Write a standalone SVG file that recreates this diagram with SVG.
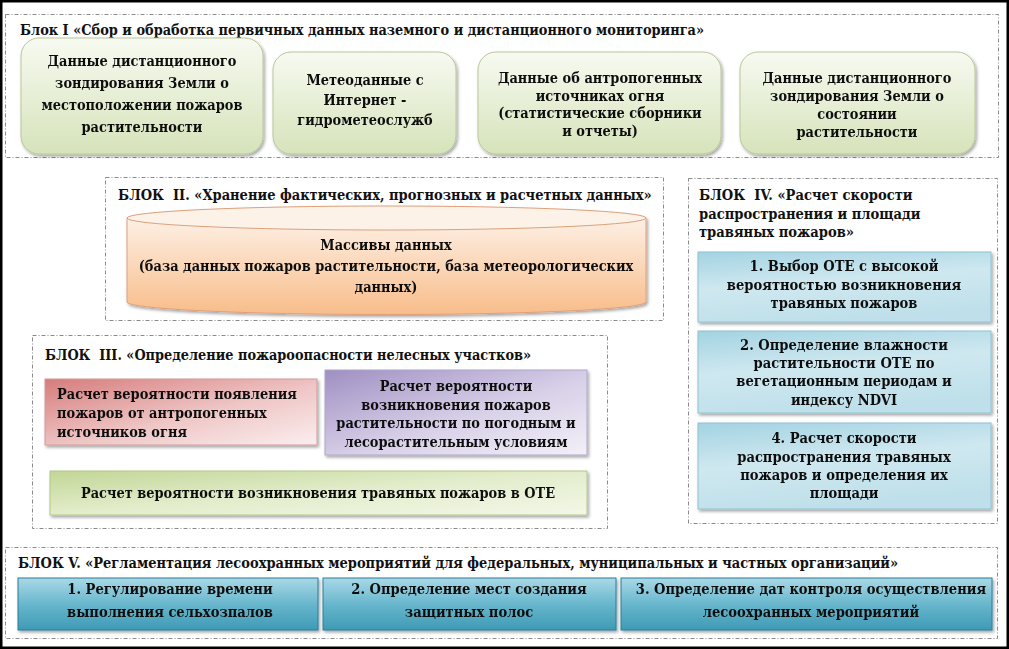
<svg xmlns="http://www.w3.org/2000/svg" width="1009" height="649" viewBox="0 0 1009 649" font-family="DejaVu Serif, serif">
<style>
.t{font-family:"DejaVu Serif",serif;font-weight:700;font-size:15px;fill:#111}
.c{text-anchor:middle}
.blk{fill:none;stroke:#8a8a8a;stroke-width:1;stroke-dasharray:4 2 1 2}
.g1{fill:url(#gGreen);stroke:#b9c79a;stroke-width:1}
.g4{fill:url(#gBlueL);stroke:#8fc2d2;stroke-width:1}
.g5{fill:url(#gBlueD);stroke:#2c7d98;stroke-width:1}
</style>
<defs>
<linearGradient id="gGreen" x1="0" y1="0" x2="0" y2="1"><stop offset="0" stop-color="#f7faf1"/><stop offset="1" stop-color="#d6e3ba"/></linearGradient>
<linearGradient id="gCyl" x1="0" y1="0" x2="0" y2="1"><stop offset="0" stop-color="#fdf0e5"/><stop offset="1" stop-color="#f8bd8a"/></linearGradient>
<linearGradient id="gRed" x1="0" y1="0" x2="1" y2="1"><stop offset="0" stop-color="#d67c7c"/><stop offset="0.55" stop-color="#efc6c6"/><stop offset="1" stop-color="#fbeeee"/></linearGradient>
<linearGradient id="gPur" x1="0" y1="0" x2="1" y2="1"><stop offset="0" stop-color="#9f8fc2"/><stop offset="0.55" stop-color="#d8d0e8"/><stop offset="1" stop-color="#f3f0f8"/></linearGradient>
<linearGradient id="gGrn" x1="0" y1="0" x2="1" y2="1"><stop offset="0" stop-color="#c2d696"/><stop offset="0.5" stop-color="#e3edcc"/><stop offset="1" stop-color="#f3f7e8"/></linearGradient>
<linearGradient id="gBlueL" x1="0" y1="0" x2="0.3" y2="1"><stop offset="0" stop-color="#a3d3e2"/><stop offset="0.5" stop-color="#cfe8f0"/><stop offset="1" stop-color="#bfe0ea"/></linearGradient>
<linearGradient id="gBlueD" x1="0" y1="0" x2="0" y2="1"><stop offset="0" stop-color="#a9d9e7"/><stop offset="0.5" stop-color="#68b7cd"/><stop offset="1" stop-color="#3f9ab5"/></linearGradient>
<filter id="sh" x="-5%" y="-10%" width="110%" height="130%"><feDropShadow dx="1.5" dy="2" stdDeviation="1.5" flood-color="#000" flood-opacity="0.35"/></filter>
</defs>
<rect x="1.25" y="1.25" width="1006.5" height="646.5" fill="#fff" stroke="#000" stroke-width="2.5"/>

<g id="block1">
<rect class="blk" x="5.5" y="14.5" width="993" height="143"/>
<text class="t" transform="translate(20 35) scale(.862 1)">Блок I «Сбор и обработка первичных данных наземного и дистанционного мониторинга»</text>
</g>
<g id="n1a" filter="url(#sh)">
<rect class="g1" x="21" y="38" width="242" height="116" rx="18"/>
<text class="t c" transform="translate(142 66) scale(.865 1)">Данные дистанционного</text>
<text class="t c" transform="translate(142 88) scale(.865 1)">зондирования Земли о</text>
<text class="t c" transform="translate(142 110) scale(.865 1)">местоположении пожаров</text>
<text class="t c" transform="translate(142 132) scale(.865 1)">растительности</text>
</g>
<g id="n1b" filter="url(#sh)">
<rect class="g1" x="273" y="52" width="183" height="102" rx="18"/>
<text class="t c" transform="translate(365 85) scale(.865 1)">Метеоданные с</text>
<text class="t c" transform="translate(365 105) scale(.865 1)">Интернет -</text>
<text class="t c" transform="translate(365 125) scale(.865 1)">гидрометеослужб</text>
</g>
<g id="n1c" filter="url(#sh)">
<rect class="g1" x="478" y="52" width="243" height="102" rx="18"/>
<text class="t c" transform="translate(600 83) scale(.865 1)">Данные об антропогенных</text>
<text class="t c" transform="translate(600 101) scale(.865 1)">источниках огня</text>
<text class="t c" transform="translate(600 118) scale(.865 1)">(статистические сборники</text>
<text class="t c" transform="translate(600 136) scale(.865 1)">и отчеты)</text>
</g>
<g id="n1d" filter="url(#sh)">
<rect class="g1" x="740" y="52" width="235" height="102" rx="18"/>
<text class="t c" transform="translate(857 83) scale(.865 1)">Данные дистанционного</text>
<text class="t c" transform="translate(857 101) scale(.865 1)">зондирования Земли о</text>
<text class="t c" transform="translate(857 119) scale(.865 1)">состоянии</text>
<text class="t c" transform="translate(857 137) scale(.865 1)">растительности</text>
</g>

<g id="block2">
<rect class="blk" x="105.5" y="177.5" width="558" height="143"/>
<text class="t" transform="translate(118 200) scale(.87 1)">БЛОК&#160; II. «Хранение фактических, прогнозных и расчетных данных»</text>
</g>
<g id="n2" filter="url(#sh)">
<path d="M127 218 V302 A259.5 12.5 0 0 0 646 302 V218" fill="url(#gCyl)" stroke="#dea07a" stroke-width="1"/>
<ellipse cx="386.5" cy="218" rx="259.5" ry="12" fill="#fdf2e8" stroke="#dea07a" stroke-width="1"/>
<text class="t c" transform="translate(386 250) scale(.865 1)">Массивы данных</text>
<text class="t c" transform="translate(386 271) scale(.865 1)">(база данных пожаров растительности, база метеорологических</text>
<text class="t c" transform="translate(386 292) scale(.865 1)">данных)</text>
</g>

<g id="block3">
<rect class="blk" x="32.5" y="335.5" width="575" height="193"/>
<text class="t" transform="translate(45 360) scale(.86 1)">БЛОК&#160; III. «Определение пожароопасности нелесных участков»</text>
</g>
<g id="n3a" filter="url(#sh)">
<rect x="45" y="379" width="272" height="66" fill="url(#gRed)" stroke="#d59a9a" stroke-width="1"/>
<text class="t" transform="translate(57 399) scale(.865 1)">Расчет вероятности появления</text>
<text class="t" transform="translate(57 418) scale(.865 1)">пожаров от антропогенных</text>
<text class="t" transform="translate(57 437) scale(.865 1)">источников огня</text>
</g>
<g id="n3b" filter="url(#sh)">
<rect x="325" y="370" width="262" height="85" fill="url(#gPur)" stroke="#b0a6cc" stroke-width="1"/>
<text class="t c" transform="translate(456 391) scale(.865 1)">Расчет вероятности</text>
<text class="t c" transform="translate(456 410) scale(.865 1)">возникновения пожаров</text>
<text class="t c" transform="translate(456 428) scale(.865 1)">растительности по погодным и</text>
<text class="t c" transform="translate(456 447) scale(.865 1)">лесорастительным условиям</text>
</g>
<g id="n3c" filter="url(#sh)">
<rect x="50" y="471" width="537" height="44" fill="url(#gGrn)" stroke="#b3c888" stroke-width="1"/>
<text class="t c" transform="translate(318 498) scale(.865 1)">Расчет вероятности возникновения травяных пожаров в ОТЕ</text>
</g>

<g id="block4">
<rect class="blk" x="688.5" y="178.5" width="309" height="345"/>
<text class="t" transform="translate(699 200) scale(.875 1)">БЛОК&#160; IV. «Расчет скорости</text>
<text class="t" transform="translate(699 219) scale(.875 1)">распространения и площади</text>
<text class="t" transform="translate(699 237) scale(.875 1)">травяных пожаров»</text>
</g>
<g id="n4a" filter="url(#sh)">
<rect class="g4" x="698" y="252" width="293" height="70"/>
<text class="t c" transform="translate(844 271) scale(.875 1)">1. Выбор ОТЕ с высокой</text>
<text class="t c" transform="translate(844 290) scale(.875 1)">вероятностью возникновения</text>
<text class="t c" transform="translate(844 308) scale(.875 1)">травяных пожаров</text>
</g>
<g id="n4b" filter="url(#sh)">
<rect class="g4" x="698" y="331" width="293" height="82"/>
<text class="t c" transform="translate(844 350) scale(.875 1)">2. Определение влажности</text>
<text class="t c" transform="translate(844 368) scale(.875 1)">растительности ОТЕ по</text>
<text class="t c" transform="translate(844 386) scale(.875 1)">вегетационным периодам и</text>
<text class="t c" transform="translate(844 405) scale(.875 1)">индексу NDVI</text>
</g>
<g id="n4c" filter="url(#sh)">
<rect class="g4" x="698" y="423" width="293" height="86"/>
<text class="t c" transform="translate(844 443) scale(.875 1)">4. Расчет скорости</text>
<text class="t c" transform="translate(844 462) scale(.875 1)">распространения травяных</text>
<text class="t c" transform="translate(844 480) scale(.875 1)">пожаров и определения их</text>
<text class="t c" transform="translate(844 498) scale(.875 1)">площади</text>
</g>

<g id="block5">
<rect class="blk" x="5.5" y="547.5" width="992" height="91"/>
<text class="t" transform="translate(18 568) scale(.868 1)">БЛОК V. «Регламентация лесоохранных мероприятий для федеральных, муниципальных и частных организаций»</text>
</g>
<g id="n5a" filter="url(#sh)">
<rect class="g5" x="18" y="578" width="300" height="52"/>
<text class="t c" transform="translate(170 594) scale(.875 1)">1. Регулирование времени</text>
<text class="t c" transform="translate(170 617) scale(.875 1)">выполнения сельхозпалов</text>
</g>
<g id="n5b" filter="url(#sh)">
<rect class="g5" x="323" y="578" width="293" height="52"/>
<text class="t c" transform="translate(469 594) scale(.875 1)">2. Определение мест создания</text>
<text class="t c" transform="translate(469 617) scale(.875 1)">защитных полос</text>
</g>
<g id="n5c" filter="url(#sh)">
<rect class="g5" x="621" y="578" width="371" height="52"/>
<text class="t c" transform="translate(811 594) scale(.875 1)">3. Определение дат контроля осуществления</text>
<text class="t c" transform="translate(811 617) scale(.875 1)">лесоохранных мероприятий</text>
</g>

<g id="connectors"></g>
</svg>
